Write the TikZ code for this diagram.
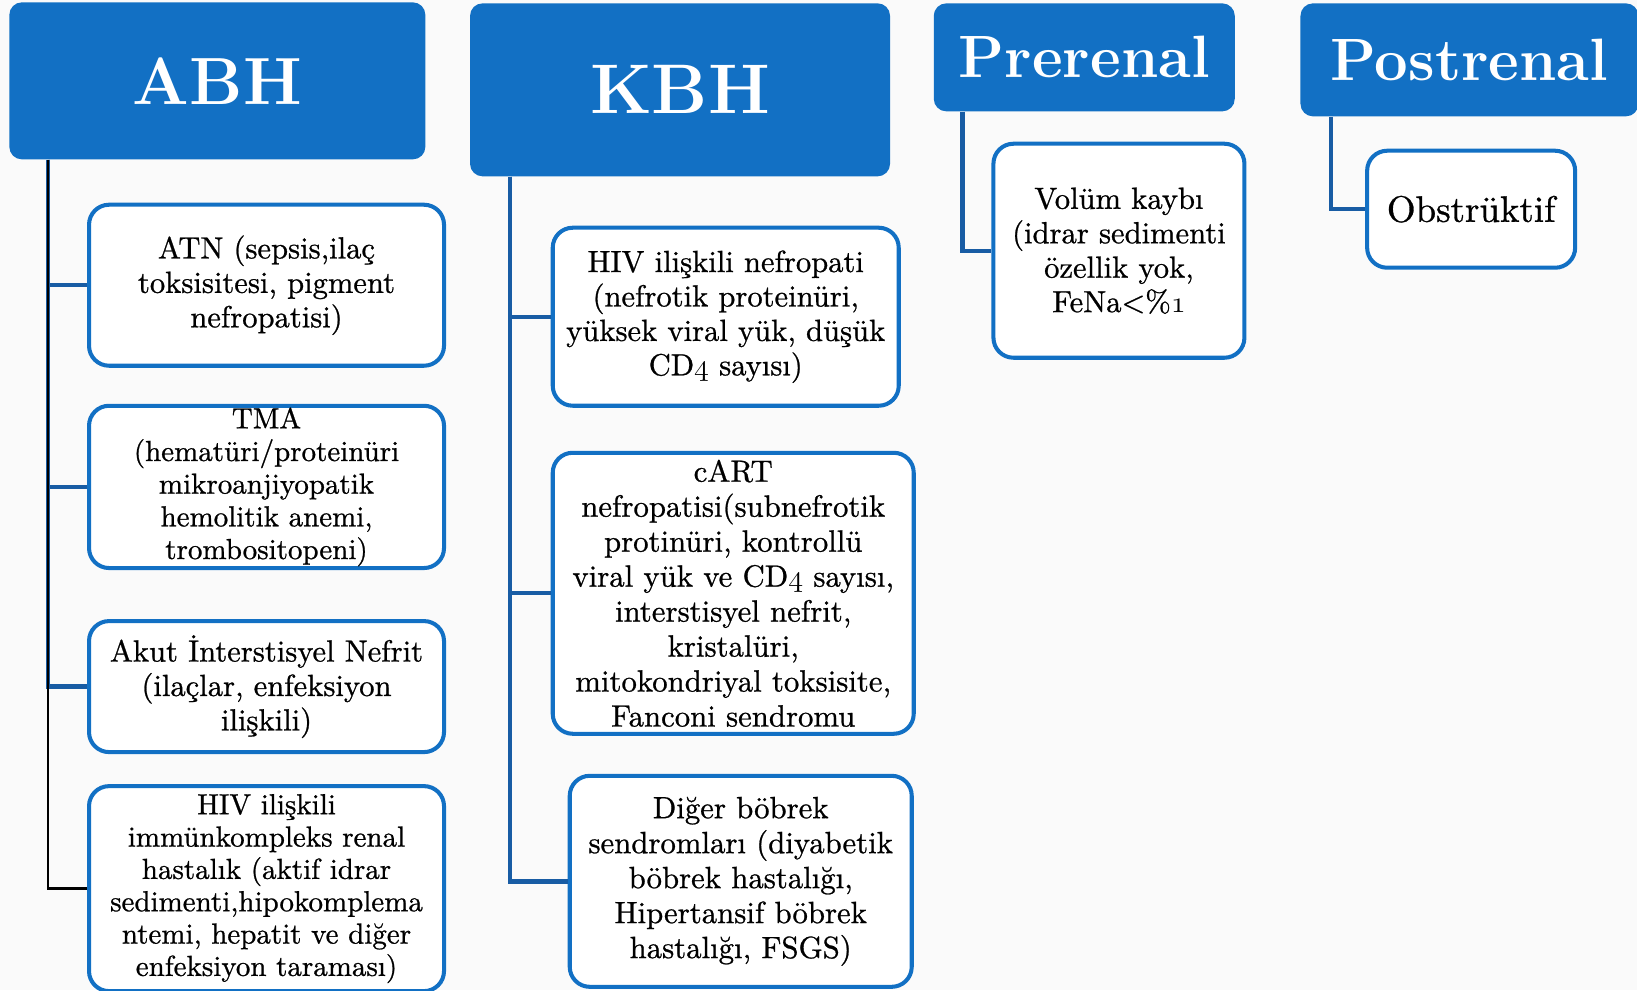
\documentclass[tikz,border=0pt]{standalone}
\usepackage{fontspec}
\newfontfamily\bodyfont{lmroman10-regular.otf}[RawFeature={embolden=0.8}]
\usetikzlibrary{positioning}
\definecolor{hdrblue}{RGB}{18,112,196}
\definecolor{lineblue}{RGB}{24,92,164}
\definecolor{bggray}{RGB}{250,250,250}

\begin{document}
\begin{tikzpicture}[
  hdr/.style={fill=hdrblue, rounded corners=0.25cm, text=white, inner sep=0pt},
  item/.style={draw=hdrblue, line width=2.3pt, fill=white, rounded corners=0.4cm, align=center, inner sep=1pt, font=\bodyfont\fontsize{17.4}{19.6}\selectfont},
  branch/.style={draw=lineblue, line width=2.5pt},
  trunk/.style={draw=black, line width=1.6pt}
]

\useasboundingbox (0,0) rectangle (32.74,-19.8);
\fill[bggray] (0,0) rectangle (32.74,-19.8);

\node[hdr, minimum width=8.32cm, minimum height=3.14cm, anchor=north west, font=\fontsize{38}{42}\selectfont\bfseries] (abh) at (0.18,-0.04) {ABH};
\node[hdr, minimum width=8.40cm, minimum height=3.46cm, font=\fontsize{40}{44}\selectfont\bfseries, below right=0.02cm and 0.88cm of abh.north east] (kbh) {KBH};
\node[hdr, minimum width=6.02cm, minimum height=2.16cm, font=\fontsize{34}{38}\selectfont\bfseries, below right=0cm and 0.86cm of kbh.north east] (pre) {Prerenal};
\node[hdr, minimum width=6.76cm, minimum height=2.26cm, font=\fontsize{34}{38}\selectfont\bfseries, below right=0cm and 1.3cm of pre.north east] (post) {Postrenal};

\node[item, minimum width=7.10cm, minimum height=3.22cm, below right=0.86cm and 1.56cm of abh.south west] (atn) {ATN (sepsis,ilaç\\ toksisitesi, pigment\\ nefropatisi)};
\node[item, minimum width=7.10cm, minimum height=3.22cm, font=\bodyfont\fontsize{16.5}{18.6}\selectfont, below right=0.72cm and 0cm of atn.south west] (tma) {TMA\\ (hematüri/proteinüri\\ mikroanjiyopatik\\ hemolitik anemi,\\ trombositopeni)};
\node[item, minimum width=7.10cm, minimum height=2.62cm, below right=0.98cm and 0cm of tma.south west] (akut) {Akut İnterstisyel Nefrit\\ (ilaçlar, enfeksiyon\\ ilişkili)};
\node[item, minimum width=7.10cm, minimum height=4.10cm, font=\bodyfont\fontsize{16.5}{18.4}\selectfont, below right=0.6cm and 0cm of akut.south west] (hivimm) {HIV ilişkili\\ immünkompleks renal\\ hastalık (aktif idrar\\ sedimenti,hipokomplema\\ ntemi, hepatit ve diğer\\ enfeksiyon taraması)};

\node[item, minimum width=6.92cm, minimum height=3.56cm, below right=0.98cm and 1.62cm of kbh.south west] (hivnef) {HIV ilişkili nefropati\\ (nefrotik proteinüri,\\ yüksek viral yük, düşük\\ CD$\mathnormal{4}$ sayısı)};
\node[item, minimum width=7.22cm, minimum height=5.62cm, font=\bodyfont\fontsize{17.5}{19.9}\selectfont, below right=0.86cm and 0cm of hivnef.south west] (cart) {cART\\ nefropatisi(subnefrotik\\ protinüri, kontrollü\\ viral yük ve CD$\mathnormal{4}$ sayısı,\\ interstisyel nefrit,\\ kristalüri,\\ mitokondriyal toksisite,\\ Fanconi sendromu};
\node[item, minimum width=6.84cm, minimum height=4.22cm, font=\bodyfont\fontsize{17.5}{19.9}\selectfont, below right=0.76cm and 0.34cm of cart.south west] (diger) {Diğer böbrek\\ sendromları (diyabetik\\ böbrek hastalığı,\\ Hipertansif böbrek\\ hastalığı, FSGS)};

\node[item, minimum width=5.02cm, minimum height=4.28cm, below right=0.6cm and 1.16cm of pre.south west] (volum) {Volüm kaybı\\ (idrar sedimenti\\ özellik yok,\\ FeNa<\%$\mathnormal{1}$};
\node[item, minimum width=4.16cm, minimum height=2.34cm, font=\bodyfont\fontsize{21}{24}\selectfont, below right=0.64cm and 1.3cm of post.south west] (obs) {Obstrüktif};

\draw[branch] ([xshift=0.78cm]abh.south west) |- (atn.west);
\draw[branch] ([xshift=0.78cm]abh.south west) |- (tma.west);
\draw[branch] ([xshift=0.78cm]abh.south west) |- (akut.west);
\draw[trunk] ([xshift=0.78cm]abh.south west) |- (hivimm.west);

\draw[branch] ([xshift=0.8cm]kbh.south west) |- (hivnef.west);
\draw[branch] ([xshift=0.8cm]kbh.south west) |- (cart.west);
\draw[branch] ([xshift=0.8cm]kbh.south west) |- (diger.west);

\draw[branch] ([xshift=0.58cm]pre.south west) |- (volum.west);
\draw[branch] ([xshift=0.62cm]post.south west) |- (obs.west);

\end{tikzpicture}
\end{document}
